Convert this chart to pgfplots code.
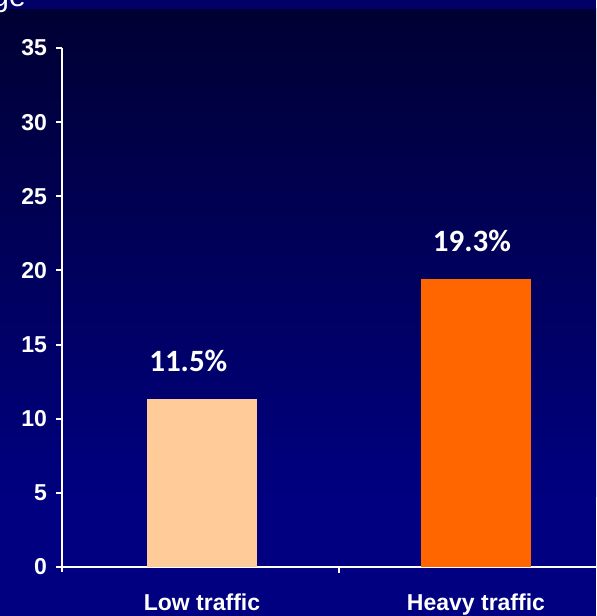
\documentclass[border=0pt]{standalone}
\usepackage{pgfplots}
\pgfplotsset{compat=1.18}
\usepackage{fontspec}
\setmainfont{Liberation Sans}
\newfontfamily\calibri{Carlito}
\definecolor{bgtop}{HTML}{000033}
\definecolor{bgbot}{HTML}{000080}
\definecolor{strip}{HTML}{000066}
\definecolor{lowc}{HTML}{FFCC99}
\definecolor{heavyc}{HTML}{FF6600}
\begin{document}
\begin{tikzpicture}
\clip (0,0) rectangle (298pt,308pt);
\fill[bgbot] (0,0) rectangle (298pt,60pt);
\shade[top color=bgtop, bottom color=bgbot] (0,59.5pt) rectangle (298pt,303.5pt);
\fill[strip] (0,303.5pt) rectangle (298pt,308pt);
\node[anchor=base west, inner sep=0pt, text=white, font=\fontsize{15}{18}\selectfont] at (-4pt,304.5pt) {ge};
\begin{axis}[
  at={(31pt,24.5pt)}, anchor=south west,
  scale only axis, width=267pt, height=259.5pt,
  xmin=-0.511, xmax=1.438, ymin=0, ymax=35,
  axis x line=bottom, axis y line=left,
  axis line style={white, line width=1pt, -},
  ytick={0,5,...,35},
  xtick={0.5}, xticklabels={},
  extra x ticks={0,1},
  extra x tick labels={Low traffic, Heavy traffic},
  extra x tick style={major tick length=0pt, tick label style={yshift=-10pt}},
  tick align=outside, major tick length=3pt,
  tick style={white, line width=1pt},
  tick label style={text=white, font=\bfseries\fontsize{11.5}{13}\selectfont},
  yticklabel style={xshift=-1pt},
  /pgf/number format/assume math mode=true,
  ybar, bar width=0.4,
  clip=false,
]
\addplot[fill=lowc, draw=none, bar shift=0pt] coordinates {(0,11.3)};
\addplot[fill=heavyc, draw=none, bar shift=0pt] coordinates {(1,19.4)};
\node[text=white, font=\calibri\bfseries\fontsize{15.5}{18}\selectfont] at (axis cs:-0.05,13.9) {11.5\%};
\node[text=white, font=\calibri\bfseries\fontsize{15.5}{18}\selectfont] at (axis cs:0.985,22.0) {19.3\%};
\end{axis}
\draw[white, line width=1pt] (31pt,24.5pt) -- (31pt,22pt);
\end{tikzpicture}
\end{document}
